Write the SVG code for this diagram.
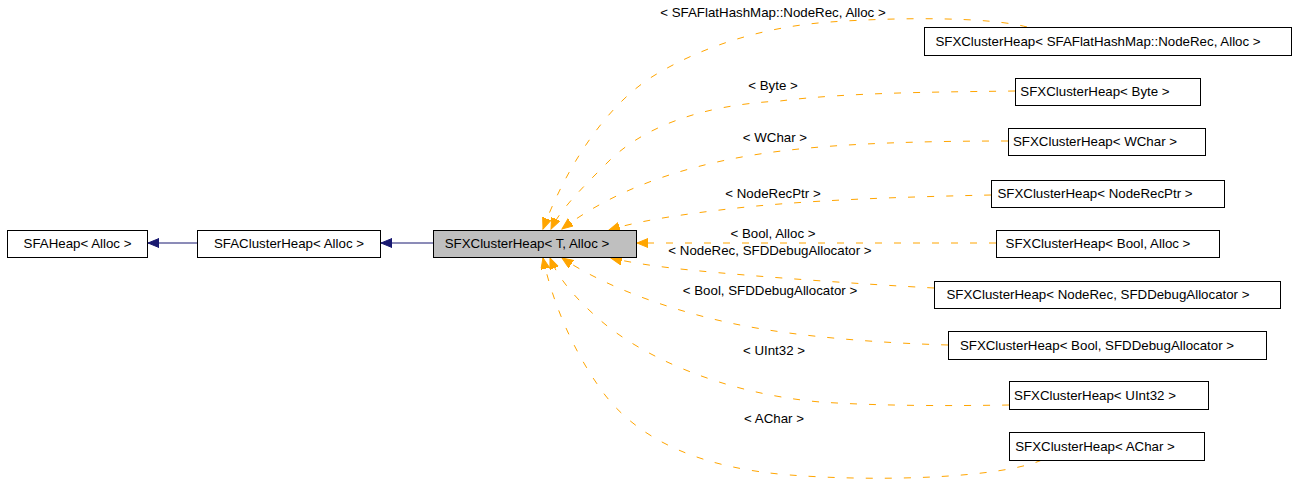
<svg xmlns="http://www.w3.org/2000/svg" width="1296" height="492" viewBox="0 0 1296 492">
<style>
.n rect{fill:#fff;stroke:#000;stroke-width:1}
.n.c rect{fill:#bfbfbf}
text{font-family:"Liberation Sans",Arial,sans-serif;font-size:13.3px;fill:#000;text-anchor:middle}
.e{fill:none;stroke:#ffa500;stroke-width:1;stroke-dasharray:7,12}
.i{fill:none;stroke:#191970;stroke-width:1}
</style>
<defs>
<marker id="ao" markerUnits="userSpaceOnUse" markerWidth="12" markerHeight="10" refX="11" refY="4.5" orient="auto"><path d="M0,0 L11,4.5 L0,9 z" fill="#ffa500" stroke="#ffa500"/></marker>
<marker id="an" markerUnits="userSpaceOnUse" markerWidth="12" markerHeight="10" refX="11" refY="4.5" orient="auto"><path d="M0,0 L11,4.5 L0,9 z" fill="#191970" stroke="#191970"/></marker>
</defs>
<g id="edges">
<path class="i" d="M197,243 L148,243" marker-end="url(#an)"/>
<path class="i" d="M433,243 L381,243" marker-end="url(#an)"/>
<path class="e" d="M1027,27 C990,17 900,17 830,22 C760,27 700,48 655,75 C605,105 565,170 543,229" marker-end="url(#ao)"/>
<path class="e" d="M1015,91 C950,92 850,92 780,101 C700,105 640,128 605,165 C582,188 560,210 551,229" marker-end="url(#ao)"/>
<path class="e" d="M1008,141 C930,141 850,143 790,150 C700,160 620,185 562,229" marker-end="url(#ao)"/>
<path class="e" d="M991,195 C900,197 800,200 720,210 C670,216 635,222 609,230" marker-end="url(#ao)"/>
<path class="e" d="M996,243 L637,243" marker-end="url(#ao)"/>
<path class="e" d="M934,288 C860,284 760,277 690,270 C660,267 632,263 611,258" marker-end="url(#ao)"/>
<path class="e" d="M948,345 C880,343 800,337 740,325 C680,313 610,290 562,258" marker-end="url(#ao)"/>
<path class="e" d="M1009,405 C950,406 880,406 820,402 C720,393 640,355 600,320 C575,298 558,278 550,258" marker-end="url(#ao)"/>
<path class="e" d="M1042,460 C1000,478 880,482 790,475 C700,468 640,440 605,395 C575,355 553,305 543,258" marker-end="url(#ao)"/>
</g>
<g id="labels">
<text x="773" y="17">&lt; SFAFlatHashMap::NodeRec, Alloc &gt;</text>
<text x="773" y="90">&lt; Byte &gt;</text>
<text x="775" y="142">&lt; WChar &gt;</text>
<text x="773" y="198">&lt; NodeRecPtr &gt;</text>
<text x="773" y="238">&lt; Bool, Alloc &gt;</text>
<text x="770" y="255">&lt; NodeRec, SFDDebugAllocator &gt;</text>
<text x="770" y="295">&lt; Bool, SFDDebugAllocator &gt;</text>
<text x="774" y="355">&lt; UInt32 &gt;</text>
<text x="774" y="423">&lt; AChar &gt;</text>
</g>
<g id="n_sfaheap" class="n"><rect x="7.5" y="230.5" width="140" height="27"/><text x="77.5" y="248">SFAHeap&lt; Alloc &gt;</text></g>
<g id="n_sfaclusterheap" class="n"><rect x="197.5" y="230.5" width="183" height="27"/><text x="289" y="248">SFAClusterHeap&lt; Alloc &gt;</text></g>
<g id="n_sfxclusterheap" class="n c"><rect x="433.5" y="230.5" width="203" height="27"/><text x="527" y="248">SFXClusterHeap&lt; T, Alloc &gt;</text></g>
<g id="n_flathash" class="n"><rect x="924.5" y="27.5" width="367" height="28"/><text x="1098" y="46">SFXClusterHeap&lt; SFAFlatHashMap::NodeRec, Alloc &gt;</text></g>
<g id="n_byte" class="n"><rect x="1015.5" y="78.5" width="185" height="27"/><text x="1095" y="96">SFXClusterHeap&lt; Byte &gt;</text></g>
<g id="n_wchar" class="n"><rect x="1008.5" y="128.5" width="197" height="27"/><text x="1095" y="146">SFXClusterHeap&lt; WChar &gt;</text></g>
<g id="n_noderecptr" class="n"><rect x="991.5" y="180.5" width="233" height="27"/><text x="1095" y="198">SFXClusterHeap&lt; NodeRecPtr &gt;</text></g>
<g id="n_boolalloc" class="n"><rect x="996.5" y="230.5" width="223" height="27"/><text x="1098" y="248">SFXClusterHeap&lt; Bool, Alloc &gt;</text></g>
<g id="n_noderecdbg" class="n"><rect x="934.5" y="281.5" width="346" height="27"/><text x="1098" y="299">SFXClusterHeap&lt; NodeRec, SFDDebugAllocator &gt;</text></g>
<g id="n_booldbg" class="n"><rect x="948.5" y="331.5" width="318" height="28"/><text x="1097" y="350">SFXClusterHeap&lt; Bool, SFDDebugAllocator &gt;</text></g>
<g id="n_uint32" class="n"><rect x="1009.5" y="381.5" width="199" height="28"/><text x="1095" y="400">SFXClusterHeap&lt; UInt32 &gt;</text></g>
<g id="n_achar" class="n"><rect x="1009.5" y="432.5" width="195" height="28"/><text x="1095" y="451">SFXClusterHeap&lt; AChar &gt;</text></g>
</svg>
